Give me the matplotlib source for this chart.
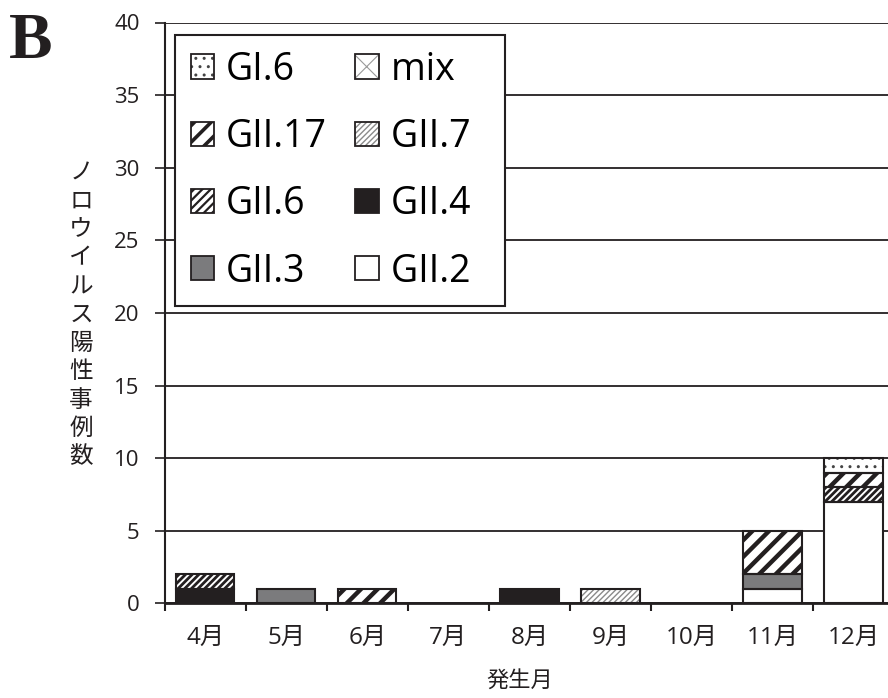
import matplotlib
matplotlib.use("Agg")
import matplotlib.pyplot as plt
import numpy as np
from matplotlib.patches import Patch, Rectangle
from matplotlib.legend_handler import HandlerBase

months = ["4月", "5月", "6月", "7月", "8月", "9月", "10月", "11月", "12月"]
# stacked bottom -> top
series = ["GII.2", "GII.3", "GII.4", "GII.6", "GII.7", "GII.17", "mix", "GI.6"]
GII_2  = [0, 0, 0, 0, 0, 0, 0, 1, 7]
GII_3  = [0, 1, 0, 0, 0, 0, 0, 1, 0]
GII_4  = [1, 0, 0, 0, 1, 0, 0, 0, 0]
GII_6  = [1, 0, 0, 0, 0, 0, 0, 0, 1]
GII_7  = [0, 0, 0, 0, 0, 1, 0, 0, 0]
GII_17 = [0, 0, 1, 0, 0, 0, 0, 3, 1]
mix    = [0, 0, 0, 0, 0, 0, 0, 0, 0]
GI_6   = [0, 0, 0, 0, 0, 0, 0, 0, 1]
values = [GII_2, GII_3, GII_4, GII_6, GII_7, GII_17, mix, GI_6]
yticks = [0, 5, 10, 15, 20, 25, 30, 35, 40]
legend_order = ["GI.6", "GII.17", "GII.6", "GII.3", "mix", "GII.7", "GII.4", "GII.2"]

INK = "#231f20"
styles = {
    "GII.2":  dict(face="white", hatch=None, hc=INK, hlw=1.0, lhatch=None, lhlw=1.0),
    "GII.3":  dict(face="#7b7b7d", hatch=None, hc=INK, hlw=1.0, lhatch=None, lhlw=1.0),
    "GII.4":  dict(face=INK, hatch=None, hc=INK, hlw=1.0, lhatch=None, lhlw=1.0),
    "GII.6":  dict(face="white", hatch="/////", hc=INK, hlw=2.0, lhatch="////", lhlw=1.6),
    "GII.7":  dict(face="white", hatch="//////", hc="#8a8a8a", hlw=1.0, lhatch="//////", lhlw=1.0),
    "GII.17": dict(face="white", hatch="//", hc=INK, hlw=3.2, lhatch="//", lhlw=2.6),
    "mix":    dict(face="white", hatch="x", hc="#9a9a9a", hlw=0.8, lhatch="x", lhlw=0.8),
    "GI.6":   dict(face="white", hatch="..", hc="#444444", hlw=1.0, lhatch="..", lhlw=1.0),
}

W, H = 888, 698
fig = plt.figure(figsize=(W / 100, H / 100), dpi=100)
ax = fig.add_axes([164.7 / W, 1 - 603.3 / H, (894 - 164.7) / W, (603.3 - 22.5) / H])

x = np.arange(len(months))
bw = 0.72
bottom = np.zeros(len(months))
for name, vals in zip(series, values):
    st = styles[name]
    vals = np.array(vals, dtype=float)
    m = vals > 0
    if m.any():
        with plt.rc_context({"hatch.linewidth": st["hlw"]}):
            ax.bar(x[m], vals[m], bw, bottom=bottom[m], color=st["face"],
                   edgecolor=st["hc"], hatch=st["hatch"], linewidth=0, zorder=2)
        ax.bar(x[m], vals[m], bw, bottom=bottom[m], fill=False,
               edgecolor=INK, linewidth=1.5, zorder=3)
    bottom += vals

ax.set_xlim(-0.5, len(months) - 0.5)
ax.set_ylim(0, 40)
ax.set_yticks(yticks)
ax.set_yticklabels([str(v) for v in yticks], fontsize=16, family="Open Sans", color=INK)
ax.set_xticks(x)
ax.set_xticklabels(months, fontsize=17.5, family=["Open Sans", "Noto Sans CJK JP"], color=INK)
ax.tick_params(axis="x", which="major", length=0, pad=16)
ax.set_xticks(np.arange(len(months) + 1) - 0.5, minor=True)
ax.tick_params(axis="x", which="minor", length=6, width=1.5, color=INK)
ax.tick_params(axis="y", length=7, width=1.2, color=INK, pad=11)

ax.grid(axis="y", color=INK, linewidth=1.3)
ax.set_axisbelow(True)
for s in ["top", "right"]:
    ax.spines[s].set_visible(False)
ax.spines["left"].set_linewidth(1.5)
ax.spines["bottom"].set_linewidth(2.0)
ax.spines["left"].set_color(INK)
ax.spines["bottom"].set_color(INK)


class SwatchHandler(HandlerBase):
    def __init__(self, st):
        super().__init__()
        self.st = st

    def create_artists(self, legend, orig_handle, xdescent, ydescent, width, height, fontsize, trans):
        st = self.st
        with plt.rc_context({"hatch.linewidth": st["lhlw"]}):
            p1 = Rectangle((-xdescent, -ydescent), width, height, facecolor=st["face"],
                           edgecolor=st["hc"], hatch=st["lhatch"], linewidth=0, transform=trans)
        p2 = Rectangle((-xdescent, -ydescent), width, height, fill=False,
                       edgecolor=INK, linewidth=1.3, transform=trans)
        return [p1, p2]


col2 = {"mix", "GII.7", "GII.4", "GII.2"}
handles = []
hmap = {}
for name in legend_order:
    h = Patch(facecolor="white", label=name + ("  " if name in col2 else ""))
    handles.append(h)
    hmap[h] = SwatchHandler(styles[name])
leg = ax.legend(handles=handles, handler_map=hmap, ncol=2, loc="upper left",
                bbox_to_anchor=(10.5 / 729.3, 1 - 12.5 / 580.8),
                prop={"family": "Open Sans", "size": 27}, frameon=True, fancybox=False,
                edgecolor=INK, framealpha=1, handlelength=0.62, handleheight=0.62,
                handletextpad=0.32, columnspacing=0.75, labelspacing=0.78, borderpad=0.42,
                borderaxespad=0)
leg.get_frame().set_linewidth(1.5)
leg.set_zorder(5)

fig.text(520 / W, 1 - 680 / H, "発生月", ha="center", va="center", fontsize=16,
         family="Noto Sans CJK JP", color=INK)
fig.text(81 / W, 1 - 315 / H, "\n".join("ノロウイルス陽性事例数"), ha="center", va="center",
         fontsize=17, family="Noto Sans CJK JP", color=INK, linespacing=1.3)
fig.text(31 / W, 1 - 42 / H, "B", ha="center", va="center", fontsize=47, fontweight="bold",
         family="Liberation Serif", color=INK)

fig.savefig("out.png", dpi=100)
